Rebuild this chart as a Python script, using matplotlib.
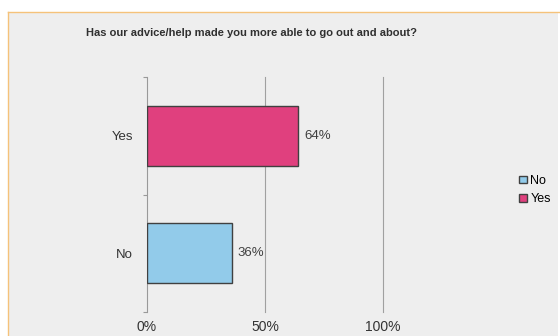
import matplotlib.pyplot as plt
from matplotlib.patches import Rectangle, Patch
from matplotlib.lines import Line2D
import numpy as np

# survey answers, share of respondents in percent
answers = ["No", "Yes"]
shares = [36, 64]
colors = ["#92cbea", "#e0407e"]
x_ticks = [0, 50, 100]

plt.rcParams["font.family"] = ["Liberation Sans", "DejaVu Sans"]

fig = plt.figure(figsize=(5.6, 3.36), dpi=100)
fig.patch.set_facecolor("white")

# grey panel behind everything, orange frame on top and left
x0, x1, ytop = 8 / 560, 558 / 560, 1 - 12 / 336
panel = Rectangle((x0, 0), x1 - x0, ytop, transform=fig.transFigure,
                  facecolor="#eeeeee", edgecolor="none", zorder=-5)
fig.patches.append(panel)
fig.lines.append(Line2D([x0, 1], [ytop, ytop], transform=fig.transFigure,
                        color="#f5c27a", linewidth=1.0, zorder=-4))
fig.lines.append(Line2D([x0, x0], [0, ytop], transform=fig.transFigure,
                        color="#f5c27a", linewidth=1.0, zorder=-4))

ax = fig.add_axes([147 / 560, 24 / 336, 236 / 560, 235 / 336])
ax.patch.set_alpha(0)

y = np.arange(len(answers))
ax.barh(y, shares, height=0.51, color=colors, edgecolor="#404040", linewidth=1.0, zorder=3)

for yi, v in zip(y, shares):
    ax.text(v + 2.5, yi, f"{v}%", va="center", ha="left", fontsize=9.5, color="#404040")

ax.set_xlim(0, 100)
ax.set_ylim(-0.5, 1.5)
ax.set_xticks(x_ticks)
ax.set_xticklabels([f"{t}%" for t in x_ticks], fontsize=10, color="#333333")
ax.set_yticks(y)
ax.set_yticklabels(answers, fontsize=9.5, color="#333333")
ax.set_yticks([-0.5, 0.5, 1.5], minor=True)
ax.tick_params(axis="y", which="major", length=0, pad=10)
ax.tick_params(axis="y", which="minor", length=3, color="#999999", width=0.8)
ax.tick_params(axis="x", length=0, pad=6)

# vertical gridlines, including the one at 100%
for t in x_ticks[1:]:
    ax.axvline(t, color="#a0a0a0", linewidth=0.8, zorder=1, clip_on=False)
for s in ["top", "right", "bottom"]:
    ax.spines[s].set_visible(False)
ax.spines["left"].set_color("#999999")
ax.spines["left"].set_linewidth(0.8)

fig.text(252 / 560, 1 - 33 / 336, "Has our advice/help made you more able to go out and about?",
         ha="center", va="center", fontsize=8, fontweight="bold", color="#303030")

handles = [Patch(facecolor=c, edgecolor="#404040", label=a) for a, c in zip(answers, colors)]
fig.legend(handles=handles, loc="center left", bbox_to_anchor=(519 / 560, 1 - 190 / 336),
           frameon=False, fontsize=9, handlelength=0.6, handleheight=0.6,
           handletextpad=0.3, labelspacing=0.5, borderaxespad=0, borderpad=0)

fig.savefig("out.png", dpi=100, facecolor=fig.get_facecolor())
